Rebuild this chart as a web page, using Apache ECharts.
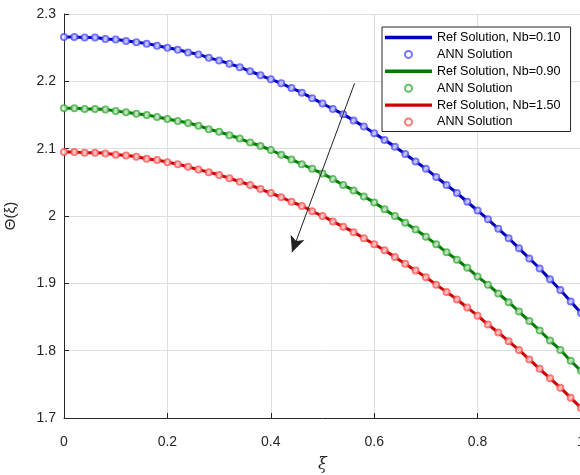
<!DOCTYPE html>
<html>
<head>
<meta charset="utf-8">
<script src="https://cdn.jsdelivr.net/npm/echarts@6/dist/echarts.min.js"></script>
<style>
html, body { margin: 0; padding: 0; background: #fff; }
#main { width: 580px; height: 475px; }
</style>
</head>
<body>
<div id="main"></div>
<script>
// xi positions (ANN sample points)
var xi = [0, 0.02, 0.04, 0.06, 0.08, 0.1, 0.12, 0.14, 0.16, 0.18, 0.2, 0.22, 0.24, 0.26, 0.28, 0.3,
	0.32, 0.34, 0.36, 0.38, 0.4, 0.42, 0.44, 0.46, 0.48, 0.5, 0.52, 0.54, 0.56, 0.58, 0.6,
	0.62, 0.64, 0.66, 0.68, 0.7, 0.72, 0.74, 0.76, 0.78, 0.8, 0.82, 0.84, 0.86, 0.88, 0.9,
	0.92, 0.94, 0.96, 0.98, 1];

// Nb = 0.10
var thetaNb010 = [2.266, 2.266, 2.265, 2.265, 2.263, 2.262, 2.260, 2.258, 2.256, 2.253, 2.250,
	2.247, 2.243, 2.240, 2.235, 2.231, 2.226, 2.221, 2.215, 2.209, 2.203, 2.197, 2.190, 2.183,
	2.175, 2.167, 2.159, 2.151, 2.142, 2.133, 2.123, 2.113, 2.103, 2.092, 2.081, 2.070, 2.058,
	2.046, 2.034, 2.021, 2.008, 1.995, 1.981, 1.967, 1.952, 1.937, 1.922, 1.906, 1.890, 1.873, 1.856];

// Nb = 0.90
var thetaNb090 = [2.160, 2.160, 2.159, 2.159, 2.158, 2.156, 2.154, 2.152, 2.150, 2.147, 2.144,
	2.141, 2.138, 2.134, 2.129, 2.125, 2.120, 2.115, 2.109, 2.104, 2.098, 2.091, 2.084, 2.077,
	2.070, 2.063, 2.055, 2.046, 2.038, 2.029, 2.020, 2.010, 2.000, 1.990, 1.980, 1.969, 1.958,
	1.946, 1.935, 1.923, 1.910, 1.898, 1.885, 1.872, 1.858, 1.844, 1.830, 1.815, 1.801, 1.785, 1.770];

// Nb = 1.50
var thetaNb150 = [2.095, 2.095, 2.094, 2.094, 2.093, 2.091, 2.090, 2.088, 2.085, 2.083, 2.080,
	2.077, 2.073, 2.069, 2.065, 2.061, 2.056, 2.051, 2.046, 2.040, 2.034, 2.028, 2.021, 2.015,
	2.007, 2.000, 1.992, 1.984, 1.976, 1.967, 1.958, 1.949, 1.939, 1.929, 1.919, 1.909, 1.898,
	1.887, 1.876, 1.864, 1.852, 1.839, 1.827, 1.814, 1.801, 1.787, 1.773, 1.759, 1.745, 1.730, 1.715];

var seriesNames = ['Ref Solution, Nb=0.10', 'ANN Solution', 'Ref Solution, Nb=0.90', 'ANN Solution ',
	'Ref Solution, Nb=1.50', 'ANN Solution  '];
var lineColors = ['#0000b4', '#007a00', '#c80000'];
var markColors = ['#4646ff', '#33a833', '#ff4a4a'];

// arrow (increasing Nb), in data coordinates
var arrowFrom = [0.562, 2.197];
var arrowTo = [0.441, 1.946];

var fontFam = "'Liberation Sans', Arial, sans-serif";

var toPairs = function(ys) {
	var out = [];
	for (var i = 0; i < xi.length; i++) {
		out.push([xi[i], ys[i]]);
	}
	return out;
};

var allSets = [thetaNb010, thetaNb090, thetaNb150];
var series = [];
var legendData = [];
for (var k = 0; k < allSets.length; k++) {
	var pts = toPairs(allSets[k]);
	var refLine = {
		name : seriesNames[k * 2],
		type : 'line',
		data : pts,
		smooth : true,
		symbol : 'none',
		lineStyle : {
			color : lineColors[k],
			width : 3
		},
		itemStyle : {
			color : lineColors[k]
		},
		z : 2
	};
	if (k == 2) {
		refLine.markLine = {
			silent : true,
			symbol : [ 'none', 'arrow' ],
			symbolSize : [ 11, 16 ],
			lineStyle : {
				color : '#222',
				width : 1,
				type : 'solid'
			},
			label : {
				show : false
			},
			data : [ [ {
				coord : arrowFrom
			}, {
				coord : arrowTo
			} ] ]
		};
	}
	series.push(refLine);
	series.push({
		name : seriesNames[k * 2 + 1],
		type : 'scatter',
		data : pts,
		symbol : 'emptyCircle',
		symbolSize : 6,
		itemStyle : {
			color : markColors[k],
			borderColor : markColors[k],
			borderWidth : 1,
			opacity : 0.75
		},
		z : 3
	});
	legendData.push({
		name : seriesNames[k * 2],
		icon : 'path://M0,0H47V3.4H0Z',
		itemStyle : {
			color : lineColors[k]
		}
	});
	legendData.push({
		name : seriesNames[k * 2 + 1]
	});
}

var chart = echarts.init(document.getElementById('main'));
var option = {
	animation : false,
	backgroundColor : '#fff',
	textStyle : {
		fontFamily : fontFam
	},
	grid : {
		left : 64,
		top : 14,
		width : 517,
		height : 404,
		containLabel : false,
		outerBoundsMode : 'none'
	},
	legend : {
		orient : 'vertical',
		left : 382,
		top : 27,
		padding : [ 4, 10, 3, 3 ],
		itemGap : 3.9,
		itemWidth : 47,
		itemHeight : 7,
		backgroundColor : '#fff',
		borderColor : '#262626',
		borderWidth : 1,
		borderRadius : 0,
		textStyle : {
			fontFamily : fontFam,
			fontSize : 12.6,
			color : '#000'
		},
		data : legendData
	},
	xAxis : {
		type : 'value',
		min : 0,
		max : 1,
		interval : 0.2,
		name : 'ξ',
		nameLocation : 'middle',
		nameGap : 39,
		nameTextStyle : {
			fontFamily : 'DejaVu Serif, serif',
			fontStyle : 'italic',
			fontSize : 16,
			color : '#262626'
		},
		axisLine : {
			onZero : false,
			lineStyle : {
				color : '#262626',
				width : 1
			}
		},
		axisTick : {
			inside : true,
			length : 5,
			lineStyle : {
				color : '#262626'
			}
		},
		axisLabel : {
			fontSize : 14,
			color : '#262626',
			margin : 17
		},
		splitLine : {
			show : true,
			lineStyle : {
				color : '#dedede',
				width : 1
			}
		}
	},
	yAxis : {
		type : 'value',
		min : 1.7,
		max : 2.3,
		interval : 0.1,
		name : 'Θ(ξ)',
		nameLocation : 'middle',
		nameGap : 46,
		nameRotate : 90,
		nameTextStyle : {
			fontSize : 15,
			color : '#262626'
		},
		axisLine : {
			onZero : false,
			lineStyle : {
				color : '#262626',
				width : 1
			}
		},
		axisTick : {
			inside : true,
			length : 5,
			lineStyle : {
				color : '#262626'
			}
		},
		axisLabel : {
			fontSize : 14,
			color : '#262626',
			margin : 8,
			formatter : function(v) {
				return String(Math.round(v * 10) / 10);
			}
		},
		splitLine : {
			show : true,
			lineStyle : {
				color : '#dedede',
				width : 1
			}
		}
	},
	series : series
};
chart.setOption(option);
</script>
</body>
</html>
